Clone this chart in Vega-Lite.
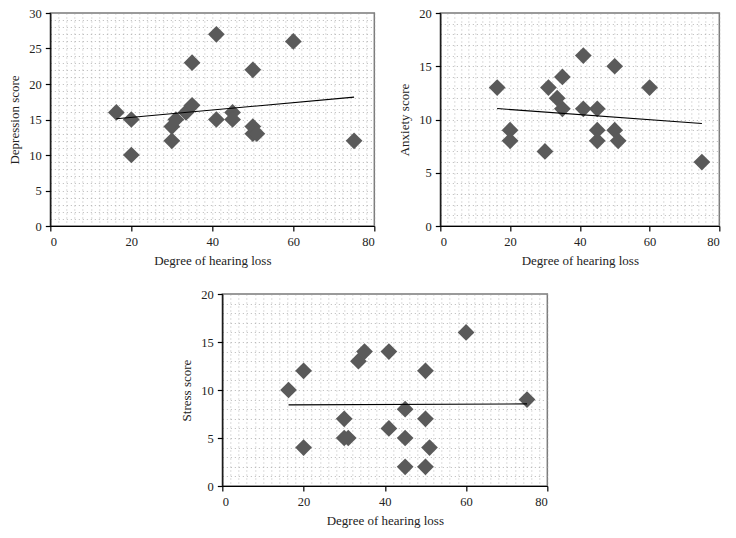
{
  "$schema": "https://vega.github.io/schema/vega-lite/v6.json",
  "padding": {"left": 8, "top": 6, "right": 5, "bottom": 5},
  "background": "white",
  "config": {
    "font": "Liberation Serif",
    "view": {"stroke": "#7a7a7a", "strokeWidth": 1.5},
    "axis": {
      "labelFont": "Liberation Serif",
      "titleFont": "Liberation Serif",
      "labelFontSize": 12.5,
      "titleFontSize": 13,
      "titleFontWeight": "normal",
      "labelColor": "#222",
      "titleColor": "#222",
      "domainColor": "black",
      "domainWidth": 1.2,
      "tickSize": 5,
      "tickWidth": 1.2,
      "grid": true,
      "gridColor": "#9a9a9a",
      "gridDash": [1, 3],
      "gridWidth": 1,
      "gridOpacity": 0.7,
      "labelOverlap": false,
      "labelPadding": 4,
      "titlePadding": 7
    }
  },
  "datasets": {
    "dep": [
      {"hl": 16.3, "score": 16}, {"hl": 20, "score": 15}, {"hl": 20, "score": 10},
      {"hl": 30, "score": 14}, {"hl": 30, "score": 12}, {"hl": 31, "score": 15},
      {"hl": 33.5, "score": 16}, {"hl": 35, "score": 17}, {"hl": 35, "score": 23},
      {"hl": 41, "score": 27}, {"hl": 41, "score": 15}, {"hl": 45, "score": 16},
      {"hl": 45, "score": 15}, {"hl": 50, "score": 22}, {"hl": 50, "score": 14},
      {"hl": 50, "score": 13}, {"hl": 51, "score": 13}, {"hl": 60, "score": 26},
      {"hl": 75, "score": 12}
    ],
    "anx": [
      {"hl": 16.3, "score": 13}, {"hl": 20, "score": 9}, {"hl": 20, "score": 8},
      {"hl": 30, "score": 7}, {"hl": 31, "score": 13}, {"hl": 33.5, "score": 12},
      {"hl": 35, "score": 14}, {"hl": 35, "score": 11}, {"hl": 41, "score": 16},
      {"hl": 41, "score": 11}, {"hl": 45, "score": 11}, {"hl": 45, "score": 9},
      {"hl": 45, "score": 8}, {"hl": 50, "score": 15}, {"hl": 50, "score": 9},
      {"hl": 51, "score": 8}, {"hl": 60, "score": 13}, {"hl": 75, "score": 6}
    ],
    "str": [
      {"hl": 16.3, "score": 10}, {"hl": 20, "score": 12}, {"hl": 20, "score": 4},
      {"hl": 30, "score": 7}, {"hl": 30, "score": 5}, {"hl": 31, "score": 5},
      {"hl": 33.5, "score": 13}, {"hl": 35, "score": 14}, {"hl": 41, "score": 14},
      {"hl": 41, "score": 6}, {"hl": 45, "score": 8}, {"hl": 45, "score": 5},
      {"hl": 45, "score": 2}, {"hl": 50, "score": 12}, {"hl": 50, "score": 7},
      {"hl": 50, "score": 2}, {"hl": 51, "score": 4}, {"hl": 60, "score": 16},
      {"hl": 75, "score": 9}
    ],
    "depFit": [{"hl": 16.3, "score": 15.1}, {"hl": 75, "score": 18.15}],
    "anxFit": [{"hl": 16.3, "score": 11.03}, {"hl": 75, "score": 9.62}],
    "strFit": [{"hl": 16.3, "score": 8.45}, {"hl": 75, "score": 8.55}]
  },
  "center": true,
  "spacing": 18,
  "vconcat": [
    {
      "spacing": 21,
      "hconcat": [
        {
          "width": 324,
          "height": 213,
          "encoding": {
            "x": {"field": "hl", "type": "quantitative", "title": "Degree of hearing loss",
              "scale": {"domain": [0, 80], "nice": false},
              "axis": {"values": [0,2,4,6,8,10,12,14,16,18,20,22,24,26,28,30,32,34,36,38,40,42,44,46,48,50,52,54,56,58,60,62,64,66,68,70,72,74,76,78,80],
                "labelExpr": "datum.value % 20 === 0 ? datum.label : ''",
                "tickColor": {"condition": {"test": "datum.value % 20 === 0", "value": "black"}, "value": "transparent"}}},
            "y": {"field": "score", "type": "quantitative", "title": "Depression score",
              "scale": {"domain": [0, 30], "nice": false},
              "axis": {"values": [0,1,2,3,4,5,6,7,8,9,10,11,12,13,14,15,16,17,18,19,20,21,22,23,24,25,26,27,28,29,30],
                "labelExpr": "datum.value % 5 === 0 ? datum.label : ''",
                "tickColor": {"condition": {"test": "datum.value % 5 === 0", "value": "black"}, "value": "transparent"}}}
          },
          "layer": [
            {
              "data": {"name": "dep"},
              "mark": {"type": "point", "shape": "diamond", "filled": true, "size": 280, "color": "#5a5a5a", "opacity": 1}
            },
            {
              "data": {"name": "depFit"},
              "mark": {"type": "line", "color": "black", "strokeWidth": 1.1}
            }
          ]
        },
        {
          "width": 279,
          "height": 213,
          "encoding": {
            "x": {"field": "hl", "type": "quantitative", "title": "Degree of hearing loss",
              "scale": {"domain": [0, 80], "nice": false},
              "axis": {"values": [0,2,4,6,8,10,12,14,16,18,20,22,24,26,28,30,32,34,36,38,40,42,44,46,48,50,52,54,56,58,60,62,64,66,68,70,72,74,76,78,80],
                "labelExpr": "datum.value % 20 === 0 ? datum.label : ''",
                "tickColor": {"condition": {"test": "datum.value % 20 === 0", "value": "black"}, "value": "transparent"}}},
            "y": {"field": "score", "type": "quantitative", "title": "Anxiety score",
              "scale": {"domain": [0, 20], "nice": false},
              "axis": {"values": [0,1,2,3,4,5,6,7,8,9,10,11,12,13,14,15,16,17,18,19,20],
                "labelExpr": "datum.value % 5 === 0 ? datum.label : ''",
                "tickColor": {"condition": {"test": "datum.value % 5 === 0", "value": "black"}, "value": "transparent"}}}
          },
          "layer": [
            {
              "data": {"name": "anx"},
              "mark": {"type": "point", "shape": "diamond", "filled": true, "size": 280, "color": "#5a5a5a", "opacity": 1}
            },
            {
              "data": {"name": "anxFit"},
              "mark": {"type": "line", "color": "black", "strokeWidth": 1.1}
            }
          ]
        }
      ]
    },
    {
      "width": 325,
      "height": 192,
      "encoding": {
        "x": {"field": "hl", "type": "quantitative", "title": "Degree of hearing loss",
          "scale": {"domain": [0, 80], "nice": false},
          "axis": {"values": [0,2,4,6,8,10,12,14,16,18,20,22,24,26,28,30,32,34,36,38,40,42,44,46,48,50,52,54,56,58,60,62,64,66,68,70,72,74,76,78,80],
            "labelExpr": "datum.value % 20 === 0 ? datum.label : ''",
            "tickColor": {"condition": {"test": "datum.value % 20 === 0", "value": "black"}, "value": "transparent"}}},
        "y": {"field": "score", "type": "quantitative", "title": "Stress score",
          "scale": {"domain": [0, 20], "nice": false},
          "axis": {"values": [0,1,2,3,4,5,6,7,8,9,10,11,12,13,14,15,16,17,18,19,20],
            "labelExpr": "datum.value % 5 === 0 ? datum.label : ''",
            "tickColor": {"condition": {"test": "datum.value % 5 === 0", "value": "black"}, "value": "transparent"}}}
      },
      "layer": [
        {
          "data": {"name": "str"},
          "mark": {"type": "point", "shape": "diamond", "filled": true, "size": 280, "color": "#5a5a5a", "opacity": 1}
        },
        {
          "data": {"name": "strFit"},
          "mark": {"type": "line", "color": "black", "strokeWidth": 1.1}
        }
      ]
    }
  ]
}
